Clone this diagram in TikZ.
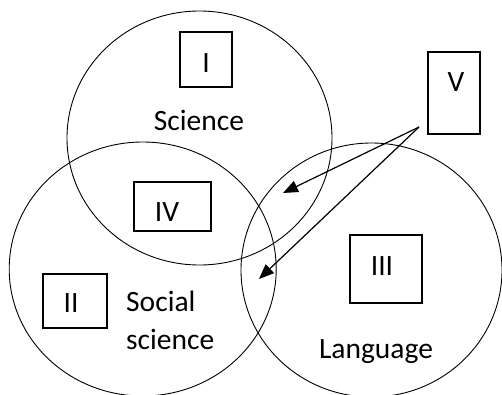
\documentclass[tikz,border=0pt]{standalone}
\usepackage{fontspec}
\setmainfont{Carlito}
\usetikzlibrary{shapes.geometric,arrows.meta}
\begin{document}
\begin{tikzpicture}[x=1pt,y=-1pt,
  circ/.style={draw,ellipse,inner sep=0pt,line width=0.9pt},
  boxn/.style={draw,rectangle,inner sep=0pt,line width=1.2pt},
  lbl/.style={font=\fontsize{29.5}{38}\selectfont,inner sep=0pt},
  arr/.style={line width=1.2pt,-{Triangle[length=15pt,width=12pt]}}]
\useasboundingbox (0,0) rectangle (502,394);
\node[circ,minimum width=265pt,minimum height=254pt] (sci) at (199.5,138) {};
\node[circ,minimum width=267pt,minimum height=254pt] (soc) at (142.7,269) {};
\node[circ,minimum width=261pt,minimum height=254pt] (lang) at (371.5,270) {};
% boxes
\node[boxn,minimum width=52pt,minimum height=55pt] (b1) at (206,59.5) {};
\node[boxn,minimum width=52pt,minimum height=82pt] (b5) at (454,93) {};
\node[boxn,minimum width=77pt,minimum height=49pt] (b4) at (172.5,206.5) {};
\node[boxn,minimum width=72pt,minimum height=68pt] (b3) at (386,269) {};
\node[boxn,minimum width=64pt,minimum height=54pt] (b2) at (75,301) {};
% box labels
\node[lbl] (t1) at (206,63) {I};
\node[lbl] (t5) at (456,82) {V};
\node[lbl] (t4) at (167,212) {IV};
\node[lbl] (t3) at (382,266) {III};
\node[lbl] (t2) at (71,303) {II};
% circle labels
\node[lbl] (tsci) at (199,120) {Science};
\node[lbl,align=left,anchor=north west] (tsoc) at (126,291) {Social\\science};
\node[lbl] (tlang) at (376,352) {Language};
% arrows
\coordinate (src) at (419,127);
\coordinate (tipa) at (283,193);
\coordinate (tipb) at (259,279);
\draw[arr] (src) -- (tipa);
\draw[arr] (src) -- (tipb);
\end{tikzpicture}
\end{document}
